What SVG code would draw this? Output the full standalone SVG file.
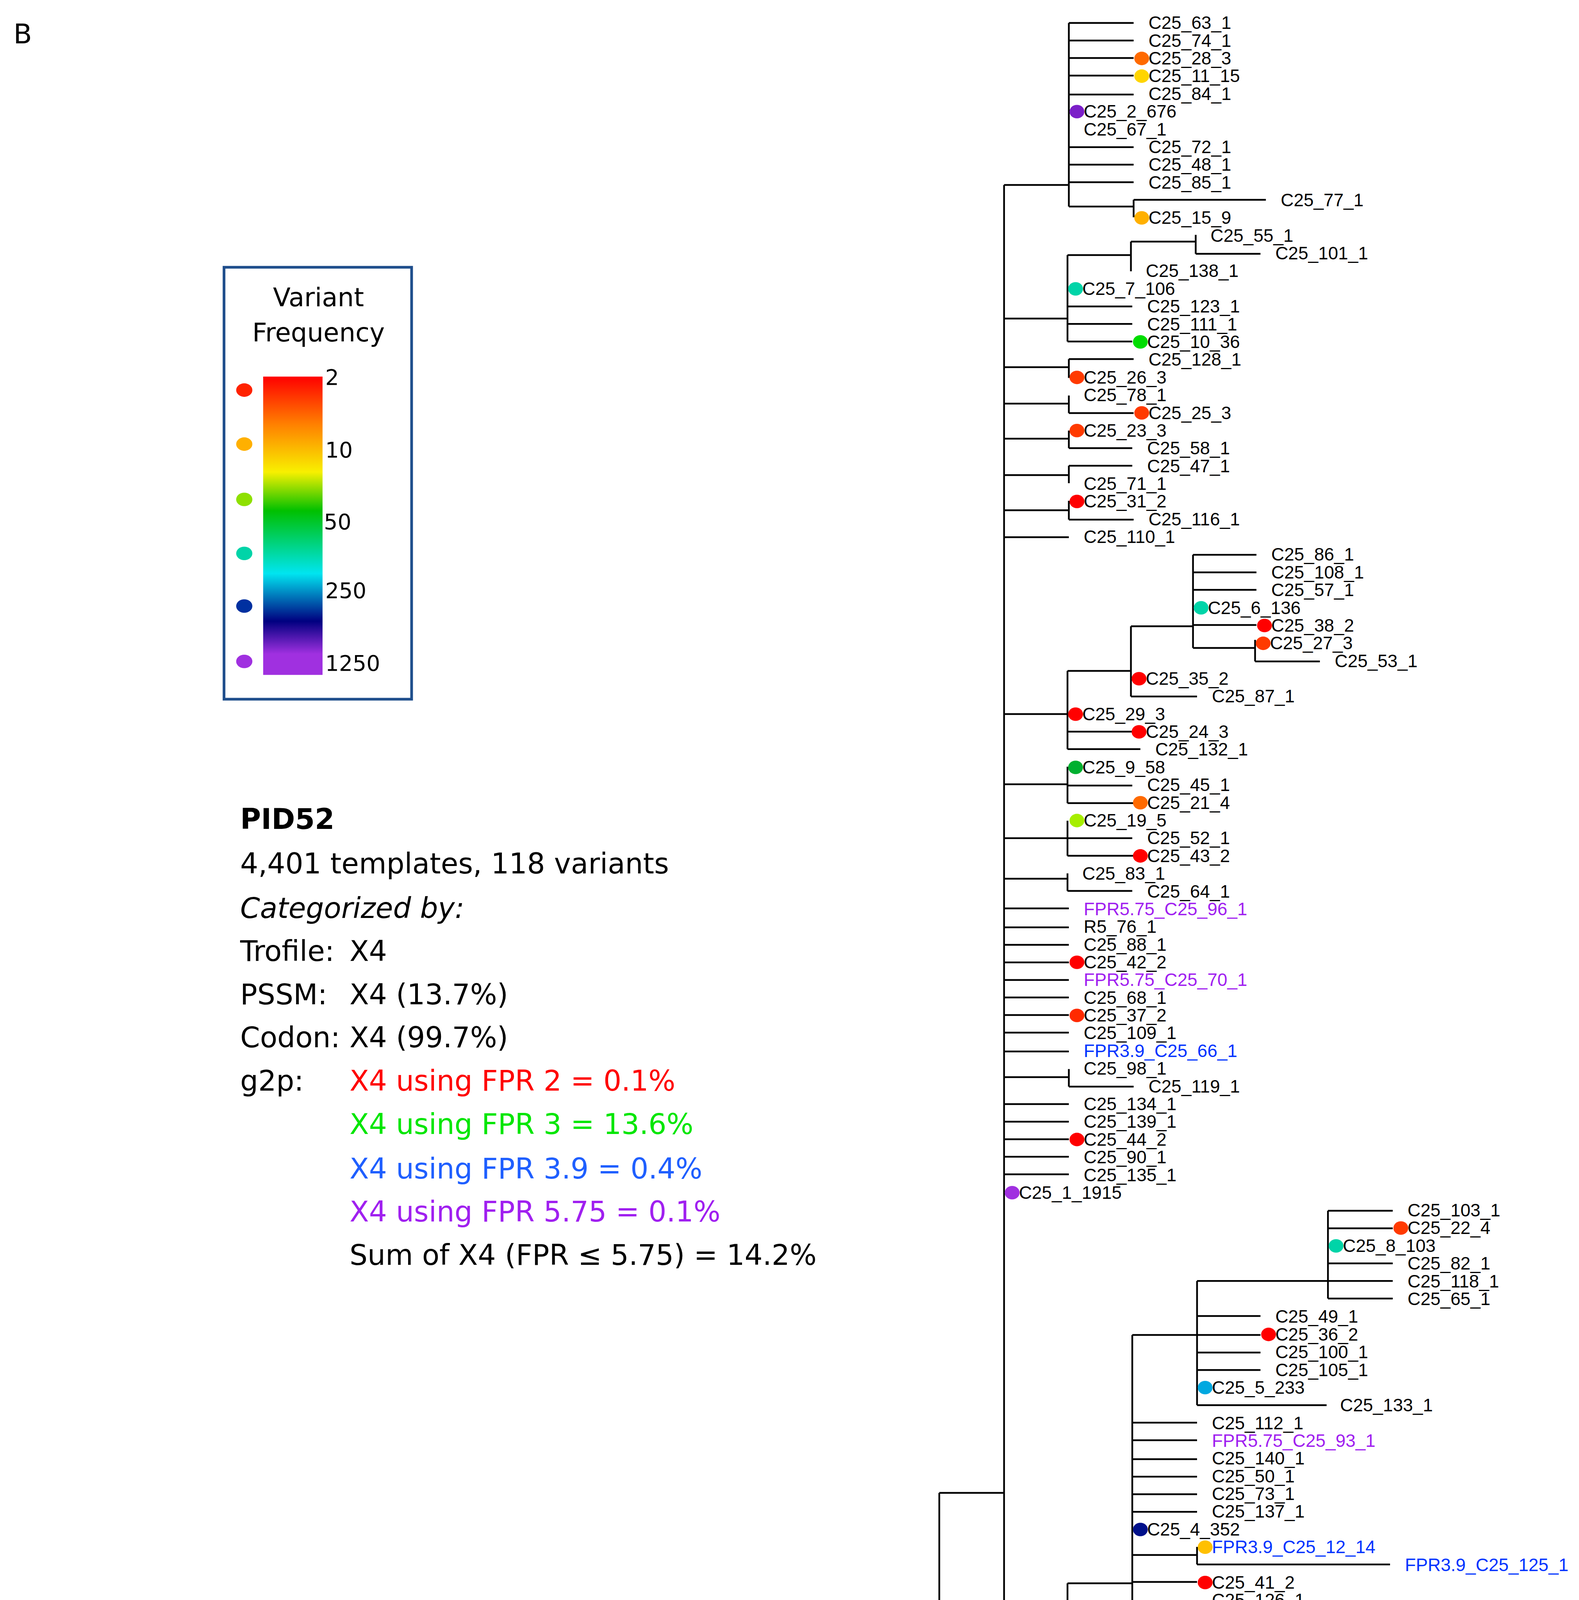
<svg xmlns="http://www.w3.org/2000/svg" width="4043" height="5396" viewBox="0 0 4043 5396">
<style>
text{font-family:"Liberation Sans",Arial,sans-serif;font-size:13.3px;fill:#000}
.g{fill:#00e600}.r{fill:#ff0000}.b{fill:#0033ff}.p{fill:#a020f0}
.br{fill:none;stroke:#000;stroke-width:1.3}
.v{font-family:"DejaVu Sans",Verdana,sans-serif}
.i{font-family:"DejaVu Sans",Verdana,sans-serif;font-size:21px}
</style>
<defs>
<linearGradient id="grad" x1="0" y1="0" x2="0" y2="1">
<stop offset="0" stop-color="#ff0000"/><stop offset="0.16" stop-color="#ff8000"/><stop offset="0.32" stop-color="#f8f000"/><stop offset="0.45" stop-color="#00c000"/><stop offset="0.66" stop-color="#00e5f0"/><stop offset="0.82" stop-color="#000080"/><stop offset="0.93" stop-color="#a030e0"/><stop offset="1" stop-color="#a030e0"/>
</linearGradient>
</defs>
<rect width="4043" height="5396" fill="#fff"/>
<g transform="scale(3.4555)">
<text x="10" y="32" class="v" style="font-size:20px">B</text>
<g id="legend">
<rect x="166" y="198" width="139" height="320" fill="none" stroke="#1f4e8c" stroke-width="2"/>
<text x="236" y="227" text-anchor="middle" class="v" style="font-size:19px">Variant</text>
<text x="236" y="253" text-anchor="middle" class="v" style="font-size:19px">Frequency</text>
<rect x="195" y="279" width="44" height="221" fill="url(#grad)"/>
<ellipse cx="181" cy="289" rx="6" ry="5" fill="#ff2200"/><ellipse cx="181" cy="329" rx="6" ry="5" fill="#ffb000"/><ellipse cx="181" cy="370" rx="6" ry="5" fill="#8ee000"/><ellipse cx="181" cy="410" rx="6" ry="5" fill="#00d4a8"/><ellipse cx="181" cy="449" rx="6" ry="5" fill="#0030a0"/><ellipse cx="181" cy="490" rx="6" ry="5" fill="#a030e0"/>
<text x="241" y="285" class="v" style="font-size:16px">2</text><text x="241" y="339" class="v" style="font-size:16px">10</text><text x="240" y="392" class="v" style="font-size:16px">50</text><text x="241" y="443" class="v" style="font-size:16px">250</text><text x="241" y="497" class="v" style="font-size:16px">1250</text>
</g>
<g id="info">
<text x="178" y="614" class="i" style="font-weight:bold">PID52</text>
<text x="178" y="647" class="i">4,401 templates, 118 variants</text>
<text x="178" y="680" class="i" style="font-style:italic">Categorized by:</text>
<text x="178" y="712" class="i">Trofile:</text><text x="259" y="712" class="i">X4</text>
<text x="178" y="744" class="i">PSSM:</text><text x="259" y="744" class="i">X4 (13.7%)</text>
<text x="178" y="776" class="i">Codon:</text><text x="259" y="776" class="i">X4 (99.7%)</text>
<text x="178" y="808" class="i">g2p:</text>
<text x="259" y="808" class="i r">X4 using FPR 2 = 0.1%</text>
<text x="259" y="840" class="i g">X4 using FPR 3 = 13.6%</text>
<text x="259" y="873" class="i" style="fill:#1f5fff">X4 using FPR 3.9 = 0.4%</text>
<text x="259" y="905" class="i p">X4 using FPR 5.75 = 0.1%</text>
<text x="259" y="937" class="i">Sum of X4 (FPR ≤ 5.75) = 14.2%</text>
</g>
<g id="connectors" class="br">
<path d="M40 1503H51M51 1419V1553M51 1419H98M51 1553H98M98 1241V1527M98 1241H147M147 1192V1291M147 1192H696M696 1106V1277M696 1106H744M744 137V1256"/>
<path d="M98 1304H146M98 1317H146M98 1330H196M98 1343H146M98 1356H146M98 1369H146M98 1382H146M98 1396H146M98 1409H146M98 1422H197M98 1435H146M98 1448H146M98 1461H146M98 1474H146M98 1488H146M98 1501H146M98 1514H146"/>
<path d="M744 137H792M792 17V153M792 17H840M792 30H840M792 43H840M792 56H840M792 70H840M792 109H840M792 122H840M792 135H840M792 153H840M840 148V161M840 148H938"/>
<path d="M744 236H791M791 189V253M791 189H838M838 179V201M838 179H886M886 174V188M886 188H934M791 227H839M791 240H839M791 253H839"/>
<path d="M744 272H792M792 266V280M792 266H840M744 299H792M792 293V306M792 306H840M744 325H792M792 319V332M792 332H839M744 352H792M792 345V358M792 345H839M744 378H792M792 371V385M792 385H840M744 398H792"/>
<path d="M744 529H791M791 497V555M791 497H838M838 464V516M838 464H884M884 411V480M884 411H931M884 424H931M884 437H931M884 463H931M884 480H930M930 474V490M930 490H978M838 516H887M791 542H843M791 555H845"/>
<path d="M744 581H791M791 568V595M791 582H839M791 595H843M744 621H791M791 608V634M791 621H839M791 634H843M744 651H791M791 647V660M791 660H839"/>
<path d="M744 673H792M744 687H792M744 700H792M744 713H792M744 726H792M744 739H792M744 752H792M744 765H792M744 779H792M744 798H792M792 792V805M792 805H840M744 818H792M744 831H792M744 844H792M744 857H792M744 870H792"/>
<path d="M744 1205H791M791 1173V1238M791 1173H839M839 989V1225M839 989H887M887 949V1041M887 949H984M984 897V962M984 897H1032M984 910H1032M984 936H1032M984 949H1032M984 962H1032M887 975H934M887 989H934M887 1002H934M887 1015H934M887 1041H983"/>
<path d="M839 1054H887M839 1067H887M839 1081H887M839 1094H887M839 1107H887M839 1120H887M839 1152H887M887 1146V1159M887 1159H1030M839 1172H887M839 1186H887M839 1199H887M839 1212H887M839 1225H887M744 1256H791M791 1251V1264M791 1264H839"/>
</g>
<g id="dots">
<ellipse cx="846" cy="43.3" rx="5.5" ry="5" fill="#ff6a00"/><ellipse cx="846" cy="56.4" rx="5.5" ry="5" fill="#ffd500"/><ellipse cx="798" cy="82.7" rx="5.5" ry="5" fill="#7b1fc8"/><ellipse cx="846" cy="161.4" rx="5.5" ry="5" fill="#ffb000"/><ellipse cx="797" cy="214" rx="5.5" ry="5" fill="#00d4a8"/><ellipse cx="845" cy="253.3" rx="5.5" ry="5" fill="#00dd00"/><ellipse cx="798" cy="279.6" rx="5.5" ry="5" fill="#ff3a00"/><ellipse cx="846" cy="305.9" rx="5.5" ry="5" fill="#ff3a00"/><ellipse cx="798" cy="319" rx="5.5" ry="5" fill="#ff3a00"/><ellipse cx="798" cy="371.5" rx="5.5" ry="5" fill="#ff0000"/>
<ellipse cx="890" cy="450.3" rx="5.5" ry="5" fill="#00d4a8"/><ellipse cx="937" cy="463.4" rx="5.5" ry="5" fill="#ff0000"/><ellipse cx="936" cy="476.6" rx="5.5" ry="5" fill="#ff3a00"/><ellipse cx="844" cy="502.8" rx="5.5" ry="5" fill="#ff0000"/><ellipse cx="797" cy="529.1" rx="5.5" ry="5" fill="#ff0000"/><ellipse cx="844" cy="542.2" rx="5.5" ry="5" fill="#ff0000"/><ellipse cx="797" cy="568.5" rx="5.5" ry="5" fill="#00b030"/><ellipse cx="845" cy="594.7" rx="5.5" ry="5" fill="#ff6a00"/><ellipse cx="798" cy="607.9" rx="5.5" ry="5" fill="#a6ee00"/><ellipse cx="845" cy="634.1" rx="5.5" ry="5" fill="#ff0000"/>
<ellipse cx="798" cy="712.9" rx="5.5" ry="5" fill="#ff0000"/><ellipse cx="798" cy="752.3" rx="5.5" ry="5" fill="#ff2a00"/><ellipse cx="798" cy="844.2" rx="5.5" ry="5" fill="#ff0000"/><ellipse cx="750" cy="883.6" rx="5.5" ry="5" fill="#a030e0"/>
<ellipse cx="1038" cy="909.8" rx="5.5" ry="5" fill="#ff3a00"/><ellipse cx="990" cy="923" rx="5.5" ry="5" fill="#00d4a8"/><ellipse cx="940" cy="988.6" rx="5.5" ry="5" fill="#ff0000"/><ellipse cx="893" cy="1028" rx="5.5" ry="5" fill="#00a8e0"/><ellipse cx="845" cy="1133.1" rx="5.5" ry="5" fill="#00108a"/><ellipse cx="893" cy="1146.2" rx="5.5" ry="5" fill="#ffc000"/><ellipse cx="893" cy="1172.4" rx="5.5" ry="5" fill="#ff0000"/><ellipse cx="893" cy="1198.7" rx="5.5" ry="5" fill="#ff6a00"/><ellipse cx="893" cy="1211.8" rx="5.5" ry="5" fill="#ff5500"/><ellipse cx="797" cy="1238.1" rx="5.5" ry="5" fill="#ff6a00"/><ellipse cx="797" cy="1251.2" rx="5.5" ry="5" fill="#ff3a00"/><ellipse cx="702" cy="1277.5" rx="5.5" ry="5" fill="#ffc000"/>
<ellipse cx="152" cy="1290.6" rx="5.5" ry="5" fill="#ff6a00"/><ellipse cx="151" cy="1303.7" rx="5.5" ry="5" fill="#ff0000"/><ellipse cx="151" cy="1382.5" rx="5.5" ry="5" fill="#ff3a00"/><ellipse cx="203" cy="1421.9" rx="5.5" ry="5" fill="#ff0000"/><ellipse cx="151" cy="1474.4" rx="5.5" ry="5" fill="#ff0000"/><ellipse cx="151" cy="1513.8" rx="5.5" ry="5" fill="#ffee00"/><ellipse cx="103" cy="1527" rx="5.5" ry="5" fill="#9a30d8"/>
</g>
<g id="labels">
<text x="851" y="21.5">C25_63_1</text><text x="851" y="34.6">C25_74_1</text><text x="851" y="47.8">C25_28_3</text><text x="851" y="60.9">C25_11_15</text><text x="851" y="74">C25_84_1</text><text x="803" y="87.2">C25_2_676</text><text x="803" y="100.3">C25_67_1</text><text x="851" y="113.4">C25_72_1</text><text x="851" y="126.5">C25_48_1</text><text x="851" y="139.7">C25_85_1</text><text x="949" y="152.8">C25_77_1</text><text x="851" y="165.9">C25_15_9</text><text x="897" y="179.1">C25_55_1</text><text x="945" y="192.2">C25_101_1</text><text x="849" y="205.3">C25_138_1</text><text x="802" y="218.5">C25_7_106</text><text x="850" y="231.6">C25_123_1</text><text x="850" y="244.7">C25_111_1</text><text x="850" y="257.8">C25_10_36</text><text x="851" y="271">C25_128_1</text><text x="803" y="284.1">C25_26_3</text><text x="803" y="297.2">C25_78_1</text><text x="851" y="310.4">C25_25_3</text><text x="803" y="323.5">C25_23_3</text><text x="850" y="336.6">C25_58_1</text><text x="850" y="349.8">C25_47_1</text><text x="803" y="362.9">C25_71_1</text><text x="803" y="376">C25_31_2</text><text x="851" y="389.1">C25_116_1</text><text x="803" y="402.3">C25_110_1</text>
<text x="942" y="415.4">C25_86_1</text><text x="942" y="428.5">C25_108_1</text><text x="942" y="441.7">C25_57_1</text><text x="895" y="454.8">C25_6_136</text><text x="942" y="467.9">C25_38_2</text><text x="941" y="481.1">C25_27_3</text><text x="989" y="494.2">C25_53_1</text><text x="849" y="507.3">C25_35_2</text><text x="898" y="520.4">C25_87_1</text><text x="802" y="533.6">C25_29_3</text><text x="849" y="546.7">C25_24_3</text><text x="856" y="559.8">C25_132_1</text><text x="802" y="573">C25_9_58</text><text x="850" y="586.1">C25_45_1</text><text x="850" y="599.2">C25_21_4</text><text x="803" y="612.4">C25_19_5</text><text x="850" y="625.5">C25_52_1</text><text x="850" y="638.6">C25_43_2</text><text x="802" y="651.7">C25_83_1</text><text x="850" y="664.9">C25_64_1</text>
<text x="803" y="678" class="p">FPR5.75_C25_96_1</text><text x="803" y="691.1">R5_76_1</text><text x="803" y="704.3">C25_88_1</text><text x="803" y="717.4">C25_42_2</text><text x="803" y="730.5" class="p">FPR5.75_C25_70_1</text><text x="803" y="743.7">C25_68_1</text><text x="803" y="756.8">C25_37_2</text><text x="803" y="769.9">C25_109_1</text><text x="803" y="783" class="b">FPR3.9_C25_66_1</text><text x="803" y="796.2">C25_98_1</text><text x="851" y="809.3">C25_119_1</text><text x="803" y="822.4">C25_134_1</text><text x="803" y="835.6">C25_139_1</text><text x="803" y="848.7">C25_44_2</text><text x="803" y="861.8">C25_90_1</text><text x="803" y="875">C25_135_1</text><text x="755" y="888.1">C25_1_1915</text>
<text x="1043" y="901.2">C25_103_1</text><text x="1043" y="914.3">C25_22_4</text><text x="995" y="927.5">C25_8_103</text><text x="1043" y="940.6">C25_82_1</text><text x="1043" y="953.7">C25_118_1</text><text x="1043" y="966.9">C25_65_1</text><text x="945" y="980">C25_49_1</text><text x="945" y="993.1">C25_36_2</text><text x="945" y="1006.3">C25_100_1</text><text x="945" y="1019.4">C25_105_1</text><text x="898" y="1032.5">C25_5_233</text><text x="993" y="1045.6">C25_133_1</text><text x="898" y="1058.8">C25_112_1</text><text x="898" y="1071.9" class="p">FPR5.75_C25_93_1</text><text x="898" y="1085">C25_140_1</text><text x="898" y="1098.2">C25_50_1</text><text x="898" y="1111.3">C25_73_1</text><text x="898" y="1124.4">C25_137_1</text><text x="850" y="1137.6">C25_4_352</text><text x="898" y="1150.7" class="b">FPR3.9_C25_12_14</text><text x="1041" y="1163.8" class="b">FPR3.9_C25_125_1</text><text x="898" y="1176.9">C25_41_2</text><text x="898" y="1190.1">C25_126_1</text><text x="898" y="1203.2">C25_16_7</text><text x="898" y="1216.3">C25_17_6</text><text x="898" y="1229.5">C25_56_1</text><text x="802" y="1242.6">C25_20_4</text><text x="802" y="1255.7">C25_33_2</text><text x="850" y="1268.9">C25_142_1</text><text x="707" y="1282">C25_14_11</text>
<text x="157" y="1295.1" class="r">FPR2_PSSM_C2425_18_5</text><text x="157" y="1308.2" class="g">FPR3_PSSM_C2425_34_2</text><text x="157" y="1321.4" class="b">FPR3.9_PSSM_C2425_54_1</text><text x="206" y="1334.5" class="g">FPR3_PSSM_C2425_97_1</text><text x="157" y="1347.6" class="g">FPR3_PSSM_C2425_122_1</text><text x="157" y="1360.8" class="g">FPR3_PSSM_C2425_107_1</text><text x="157" y="1373.9" class="g">FPR3_PSSM_C2425_141_1</text><text x="157" y="1387" class="g">FPR3_PSSM_C2425_30_3</text><text x="157" y="1400.2" class="g">FPR3_PSSM_C2425_59_1</text><text x="157" y="1413.3" class="g">FPR3_PSSM_C2425_102_1</text><text x="209" y="1426.4" class="g">FPR3_PSSM_C2425_40_2</text><text x="157" y="1439.5" class="g">FPR3_PSSM_C2425_130_1</text><text x="157" y="1452.7" class="g">FPR3_PSSM_C2425_69_1</text><text x="157" y="1465.8" class="g">FPR3_PSSM_C2425_62_1</text><text x="157" y="1478.9" class="g">FPR3_PSSM_C2425_32_2</text><text x="157" y="1492.1" class="g">FPR3_PSSM_C2425_117_1</text><text x="157" y="1505.2" class="p">FPR5.75_PSSM_C2425_80_1</text><text x="157" y="1518.3" class="g">FPR3_PSSM_C2425_13_12</text><text x="109" y="1531.5" class="g">FPR3_PSSM_C2425_3_565</text><text x="62" y="1544.6" class="g">FPR3_PSSM_C2425_89_1</text><text x="109" y="1557.7" class="r">FPR2_PSSM_C2425_104_1</text>
</g>
<g id="scalebar">
<path d="M643 1416H689" stroke="#000" stroke-width="1.5"/>
<text x="643" y="1439" style="font-size:14px">0.0095</text>
</g>
</g>
</svg>
